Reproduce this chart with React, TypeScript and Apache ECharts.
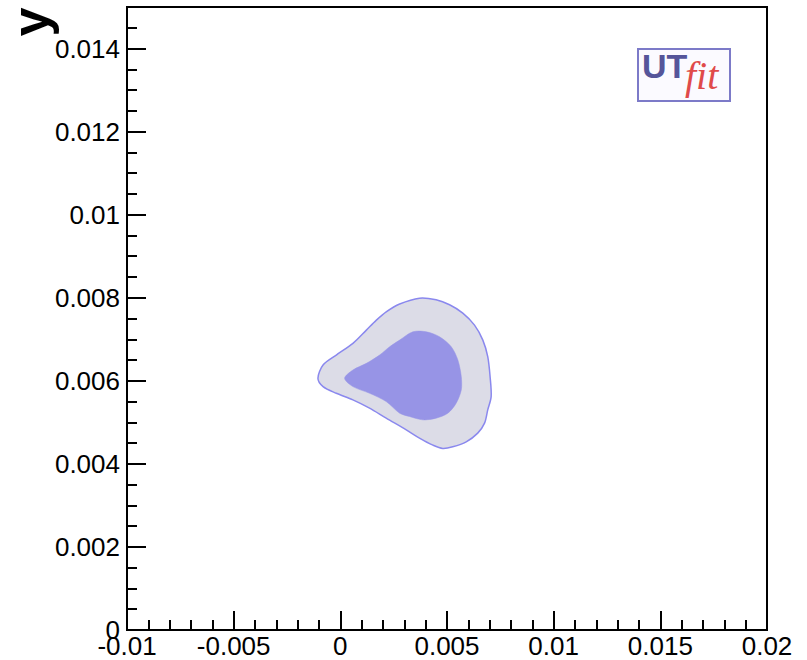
import React, { useEffect, useRef } from "react";
import * as echarts from "echarts";

const xTickLabels = ["-0.01", "-0.005", "0", "0.005", "0.01", "0.015", "0.02"];
const yTickLabels = ["0", "0.002", "0.004", "0.006", "0.008", "0.01", "0.012", "0.014"];
const yTitle = "y";
const logoMain = "UT";
const logoSub = "fit";

// 95% probability region (outer contour)
const outerContour: [number, number][] = [
  [-0.00105, 0.00606], [-0.00081, 0.00638], [-0.00019, 0.00662], [0.00059, 0.0069],
  [0.00122, 0.00722], [0.00169, 0.00746], [0.00215, 0.00766], [0.00278, 0.00785],
  [0.00371, 0.00799], [0.00449, 0.00795], [0.00512, 0.00783], [0.00574, 0.00763],
  [0.00629, 0.00734], [0.00668, 0.00698], [0.00691, 0.00658], [0.00702, 0.0061],
  [0.00707, 0.00562], [0.00691, 0.0053], [0.00676, 0.00498], [0.00644, 0.00474],
  [0.0059, 0.00453], [0.00527, 0.00441], [0.0048, 0.00437], [0.00434, 0.00445],
  [0.00371, 0.00462], [0.00309, 0.00482], [0.00215, 0.0051], [0.00137, 0.00534],
  [0.00059, 0.00554], [-0.00019, 0.0057], [-0.00081, 0.00586],
];

// 68% probability region (inner contour)
const innerContour: [number, number][] = [
  [0.0002, 0.00606], [0.00059, 0.00626], [0.00122, 0.00642], [0.00184, 0.00662],
  [0.00231, 0.00682], [0.00278, 0.00698], [0.0034, 0.00718], [0.00403, 0.00718],
  [0.00465, 0.00706], [0.0052, 0.00682], [0.00551, 0.0065], [0.00567, 0.0061],
  [0.00567, 0.00578], [0.00543, 0.00546], [0.00504, 0.00522], [0.00449, 0.0051],
  [0.00387, 0.00506], [0.00324, 0.00514], [0.00278, 0.00522], [0.00215, 0.0055],
  [0.00137, 0.0057], [0.00059, 0.00586],
];

const FONT = "'Liberation Sans', Arial, Helvetica, sans-serif";

const labelFor = (labels: string[]) => (v: number) => {
  const l = labels.find((s) => Math.abs(parseFloat(s) - v) < 1e-9);
  return l === undefined ? "" : l;
};

const contourSeries = (name: string, pts: [number, number][], style: any) => ({
  type: "custom",
  name,
  xAxisIndex: 0,
  yAxisIndex: 0,
  data: pts,
  renderItem: (params: any, api: any) => {
    if (params.dataIndex !== 0) return null;
    const points = pts.map((p) => api.coord(p));
    return {
      type: "polygon",
      shape: { points, smooth: 0.3 },
      style,
    };
  },
});

export default function App() {
  const ref = useRef<HTMLDivElement>(null);
  useEffect(() => {
    if (!ref.current) return;
    const chart = echarts.init(ref.current, null, { renderer: "svg" });
    const black = { color: "#000", width: 2 };
    chart.setOption({
      animation: false,
      backgroundColor: "#fff",
      grid: {
        left: 127,
        right: 40,
        top: 7,
        bottom: 30,
        show: true,
        borderColor: "#000",
        borderWidth: 2,
        backgroundColor: "transparent",
      },
      xAxis: [
        {
          type: "value",
          min: -0.01,
          max: 0.02,
          interval: 0.005,
          position: "bottom",
          axisLine: { show: true, onZero: false, lineStyle: black },
          axisTick: { show: true, inside: true, length: 19, lineStyle: black },
          axisLabel: {
            margin: 3,
            fontSize: 26,
            color: "#000",
            fontFamily: FONT,
            formatter: labelFor(xTickLabels),
          },
          splitLine: { show: false },
        },
        {
          type: "value",
          min: -0.01,
          max: 0.02,
          interval: 0.001,
          position: "bottom",
          axisLine: { show: false, onZero: false },
          axisTick: { show: true, inside: true, length: 10, lineStyle: black },
          axisLabel: { show: false },
          splitLine: { show: false },
        },
      ],
      yAxis: [
        {
          type: "value",
          min: 0,
          max: 0.015,
          interval: 0.002,
          position: "left",
          axisLine: { show: true, onZero: false, lineStyle: black },
          axisTick: { show: true, inside: true, length: 19, lineStyle: black },
          axisLabel: {
            margin: 7,
            fontSize: 26,
            color: "#000",
            fontFamily: FONT,
            formatter: labelFor(yTickLabels),
          },
          splitLine: { show: false },
        },
        {
          type: "value",
          min: 0,
          max: 0.015,
          interval: 0.0005,
          position: "left",
          axisLine: { show: false, onZero: false },
          axisTick: { show: true, inside: true, length: 10, lineStyle: black },
          axisLabel: { show: false },
          splitLine: { show: false },
        },
      ],
      series: [
        contourSeries("95%", outerContour, {
          fill: "#dcdce7",
          stroke: "#8a88ee",
          lineWidth: 1.5,
        }),
        contourSeries("68%", innerContour, {
          fill: "#9794e6",
          stroke: "#9794e6",
          lineWidth: 0.5,
        }),
      ],
      graphic: [
        {
          type: "text",
          x: 30,
          y: 22,
          rotation: Math.PI / 2,
          style: {
            text: yTitle,
            font: `bold 52px ${FONT}`,
            fill: "#000",
            align: "center",
            verticalAlign: "middle",
          },
        },
        {
          type: "group",
          x: 638,
          y: 49,
          children: [
            {
              type: "rect",
              shape: { x: 0, y: 0, width: 92, height: 52 },
              style: { fill: "#fbfaff", stroke: "#7c7ac8", lineWidth: 2 },
            },
            {
              type: "text",
              x: 4,
              y: 0,
              style: {
                text: logoMain,
                font: `bold 34px ${FONT}`,
                fill: "#55559a",
                align: "left",
                verticalAlign: "top",
              },
            },
            {
              type: "text",
              x: 47,
              y: 6,
              style: {
                text: logoSub,
                font: `italic 40px 'Liberation Serif', 'Times New Roman', serif`,
                fill: "#e04a4a",
                align: "left",
                verticalAlign: "top",
              },
            },
          ],
        },
      ],
    });
    return () => chart.dispose();
  }, []);
  return (
    <div
      ref={ref}
      style={{ position: "fixed", left: 0, top: 0, width: 807, height: 660 }}
    />
  );
}
